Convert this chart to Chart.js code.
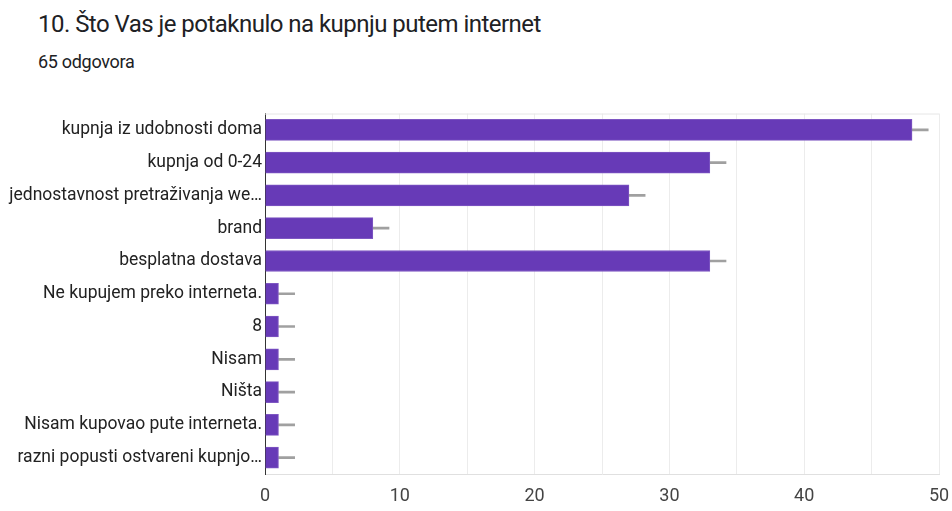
<!DOCTYPE html>
<html>
<head>
<meta charset="utf-8">
<script src="https://cdn.jsdelivr.net/npm/chart.js@4.4.1/dist/chart.umd.min.js"></script>
<style>
  html, body { margin: 0; padding: 0; background: #fff; }
  body { width: 952px; height: 511px; position: relative; overflow: hidden; font-family: Roboto, sans-serif; }
  #title { position: absolute; left: 38px; top: 10px; font-size: 24px; letter-spacing: -0.53px; color: #202124; white-space: nowrap; }
  #subtitle { position: absolute; left: 38px; top: 51px; font-size: 18px; letter-spacing: -0.3px; color: #202124; }
  #wrap { position: absolute; left: 0; top: 100px; width: 952px; height: 411px; }
</style>
</head>
<body>
<div id="title">10. Što Vas je potaknulo na kupnju putem internet</div>
<div id="subtitle">65 odgovora</div>
<div id="wrap"><canvas id="chart"></canvas></div>
<script>
const categories = [
  "kupnja iz udobnosti doma",
  "kupnja od 0-24",
  "jednostavnost pretraživanja we…",
  "brand",
  "besplatna dostava",
  "Ne kupujem preko interneta.",
  "8",
  "Nisam",
  "Ništa",
  "Nisam kupovao pute interneta.",
  "razni popusti ostvareni kupnjo…",
];
const counts = [48, 33, 27, 8, 33, 1, 1, 1, 1, 1, 1];
// grey whisker ends drawn right of each bar
const whiskerEnds = [49.2, 34.2, 28.2, 9.2, 34.2, 2.2, 2.2, 2.2, 2.2, 2.2, 2.2];
const xTicks = [0, 10, 20, 30, 40, 50];

const whiskers = counts.map((v, i) => [v, whiskerEnds[i]]);

// thin top edge of the plot frame
const topEdge = {
  id: "topEdge",
  afterDraw(chart) {
    const { ctx, chartArea } = chart;
    ctx.save();
    ctx.strokeStyle = "#e6e6e6";
    ctx.lineWidth = 1;
    ctx.beginPath();
    ctx.moveTo(chartArea.left, chartArea.top + 0.5);
    ctx.lineTo(chartArea.right, chartArea.top + 0.5);
    ctx.stroke();
    ctx.restore();
  },
};

new Chart(document.getElementById("chart"), {
  type: "bar",
  data: {
    labels: categories,
    datasets: [
      {
        label: "odgovori",
        data: counts,
        backgroundColor: "#673ab7",
        borderColor: "#7e57c2",
        borderWidth: 1,
        barThickness: 21,
        grouped: false,
        order: 1,
      },
      {
        label: "whisker",
        data: whiskers,
        backgroundColor: "#a0a0a0",
        barThickness: 2,
        grouped: false,
        order: 2,
      },
    ],
  },
  plugins: [topEdge],
  options: {
    indexAxis: "y",
    responsive: true,
    maintainAspectRatio: false,
    animation: false,
    layout: { padding: { top: 12, right: 13, left: 0, bottom: 0 } },
    plugins: { legend: { display: false }, tooltip: { enabled: false } },
    scales: {
      x: {
        min: 0,
        max: 50,
        ticks: {
          stepSize: 5,
          color: "#444",
          font: { family: "Roboto", size: 18 },
          padding: 12,
          callback: (v) => (xTicks.includes(v) ? v : ""),
        },
        grid: { color: "#ececec", drawTicks: false },
        border: { display: true, color: "#e0e0e0" },
        afterFit: (s) => { s.height = 37; s.paddingRight = 0; s.paddingLeft = 0; },
      },
      y: {
        ticks: {
          color: "#222",
          font: { family: "Roboto", size: 17.5 },
          padding: 3,
          autoSkip: false,
        },
        grid: { display: false, drawTicks: false },
        border: { display: true, color: "#333" },
        afterFit: (s) => { s.width = 265; },
      },
    },
  },
});
</script>
</body>
</html>
